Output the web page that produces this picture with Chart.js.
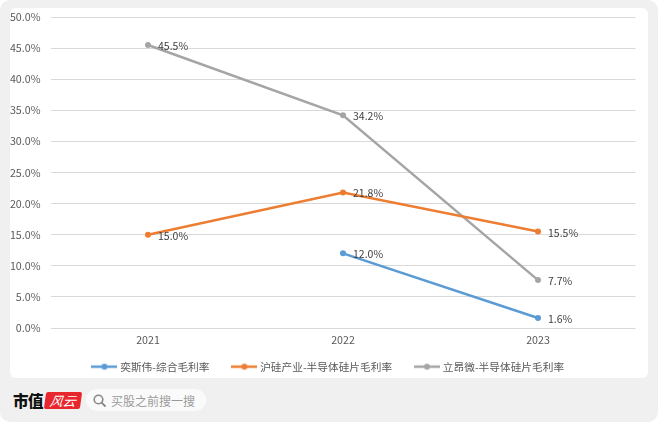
<!DOCTYPE html>
<html>
<head>
<meta charset="utf-8">
<script src="https://cdn.jsdelivr.net/npm/chart.js@4.4.0/dist/chart.umd.min.js"></script>
<style>
  html, body { margin: 0; padding: 0; background: #fff; }
  #wrap { position: relative; width: 658px; height: 422px; background: #f0f0f0; border-radius: 10px; overflow: hidden; }
  #panel { position: absolute; left: 10px; top: 8px; width: 638px; height: 370px; background: #fff; border-radius: 6px; }
  #grafico { position: absolute; left: 0; top: 0; }
  #footer { position: absolute; left: 13px; top: 389px; height: 22px; display: flex; align-items: center; font-family: "Noto Sans CJK SC", sans-serif; }
  .brand { font-size: 15.5px; font-weight: 900; color: #111; letter-spacing: -0.5px; }
  .logo { margin-left: 2px; width: 36px; height: 17px; background: #e8262d; color: #fff; font-size: 13px; font-style: italic; line-height: 17px; text-align: center; border-radius: 2px; transform: skewX(-8deg); }
  .search { margin-left: 5px; width: 120px; height: 22px; background: #fafafa; border-radius: 11px; display: flex; align-items: center; color: #9a9a9a; font-size: 12px; }
  .search svg { margin-left: 7px; margin-right: 5px; }
</style>
</head>
<body>
<div id="wrap">
  <div id="panel"><canvas id="grafico" width="638" height="374"></canvas></div>
  <div id="footer">
    <span class="brand">市值</span>
    <span class="logo">风云</span>
    <span class="search">
      <svg width="13" height="13" viewBox="0 0 13 13"><circle cx="5.5" cy="5.5" r="4.3" fill="none" stroke="#888" stroke-width="1.6"/><line x1="8.6" y1="8.6" x2="12" y2="12" stroke="#888" stroke-width="1.8" stroke-linecap="round"/></svg>
      买股之前搜一搜
    </span>
  </div>
</div>
<script>
// Dados do gráfico
const anos = ['2021', '2022', '2023'];
const yisiwei = [null, 12.0, 1.6];
const huguei = [15.0, 21.8, 15.5];
const liangwei = [45.5, 34.2, 7.7];

const cores = ['#5B9BD5', '#ED7D31', '#A5A5A5'];

// Ícone da legenda: linha com ponto
function iconeLegenda(cor) {
  const c = document.createElement('canvas');
  c.width = 26;
  c.height = 8;
  const g = c.getContext('2d');
  g.strokeStyle = cor;
  g.lineWidth = 2.5;
  g.beginPath();
  g.moveTo(0, 4);
  g.lineTo(26, 4);
  g.stroke();
  g.fillStyle = cor;
  g.beginPath();
  g.arc(13, 4, 3, 0, Math.PI * 2);
  g.fill();
  return c;
}

// Rótulos de valor ao lado dos pontos
const rotulos = {
  id: 'rotulos',
  afterDatasetsDraw(chart) {
    const ctx = chart.ctx;
    ctx.save();
    ctx.font = '10.5px "Noto Sans CJK SC", sans-serif';
    ctx.fillStyle = '#404040';
    ctx.textBaseline = 'middle';
    ctx.textAlign = 'left';
    chart.data.datasets.forEach((ds, i) => {
      const meta = chart.getDatasetMeta(i);
      meta.data.forEach((pt, j) => {
        const v = ds.data[j];
        if (v === null) return;
        ctx.fillText(v.toFixed(1) + '%', pt.x + 10, pt.y + 1);
      });
    });
    ctx.restore();
  }
};

const fonte = { family: '"Noto Sans CJK SC", sans-serif', size: 10.7 };

// espaço extra depois do texto para afastar os itens da legenda
const espaco = '\u2003\u2005';

const series = [
  { label: '奕斯伟-综合毛利率', data: yisiwei },
  { label: '沪硅产业-半导体硅片毛利率', data: huguei },
  { label: '立昂微-半导体硅片毛利率', data: liangwei }
];

new Chart(document.getElementById('grafico').getContext('2d'), {
  type: 'line',
  data: {
    labels: anos,
    datasets: series.map((s, i) => ({
      label: s.label,
      data: s.data,
      borderColor: cores[i],
      backgroundColor: cores[i],
      pointBackgroundColor: cores[i],
      pointBorderColor: cores[i],
      pointRadius: 3,
      pointBorderWidth: 0,
      borderWidth: 2.5,
      tension: 0,
      spanGaps: false
    }))
  },
  options: {
    responsive: false,
    animation: false,
    layout: { padding: { top: 9, right: 0, left: 0, bottom: 0 } },
    plugins: {
      legend: {
        position: 'bottom',
        labels: {
          usePointStyle: true,
          pointStyleWidth: 21,
          color: '#595959',
          font: fonte,
          padding: 11,
          generateLabels(chart) {
            const n = chart.data.datasets.length;
            return chart.data.datasets.map((ds, i) => ({
              text: i < n - 1 ? ds.label + espaco : ds.label,
              pointStyle: iconeLegenda(cores[i]),
              fontColor: '#595959',
              strokeStyle: cores[i],
              fillStyle: cores[i],
              lineWidth: 0,
              datasetIndex: i
            }));
          }
        }
      },
      tooltip: { enabled: false }
    },
    scales: {
      x: {
        offset: true,
        afterFit(scale) {
          scale.height = 22.3;
          scale.paddingLeft = 0;
          scale.paddingRight = 12.5;
        },
        grid: { display: false, drawTicks: false },
        border: { display: false },
        ticks: { color: '#595959', font: fonte, padding: 6 }
      },
      y: {
        min: 0,
        max: 50,
        afterFit(scale) {
          scale.width = 40.5;
          scale.paddingTop = 0;
          scale.paddingBottom = 0;
        },
        grid: { color: '#d9d9d9', drawTicks: false },
        border: { display: false },
        ticks: {
          stepSize: 5,
          color: '#595959',
          font: fonte,
          padding: 10,
          callback: v => v.toFixed(1) + '%'
        }
      }
    }
  },
  plugins: [rotulos]
});
</script>
</body>
</html>
